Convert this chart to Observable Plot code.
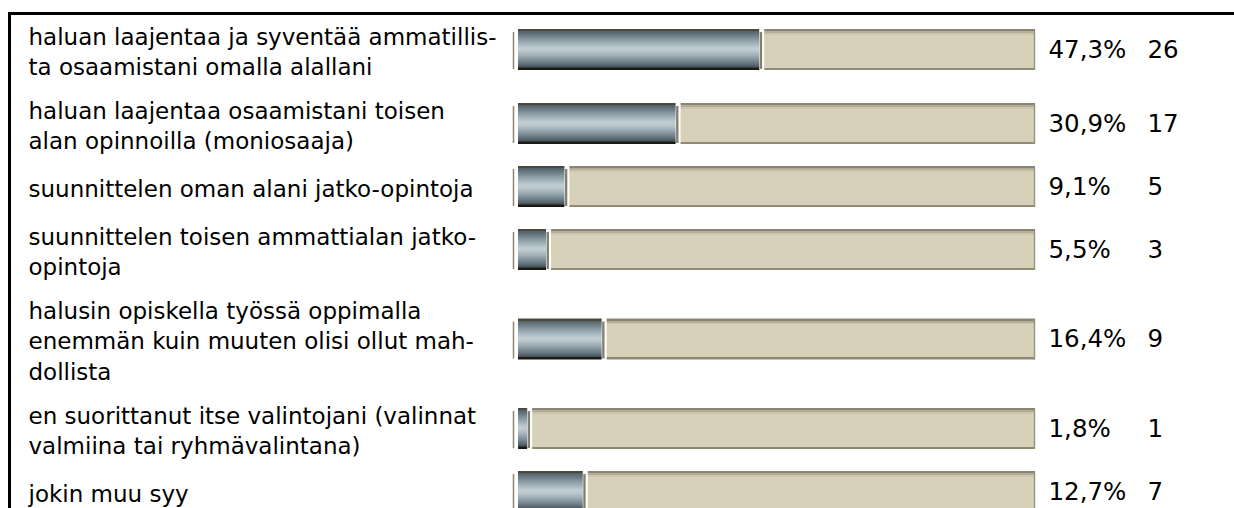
<!DOCTYPE html>
<html><head><meta charset="utf-8">
<script src="https://cdn.jsdelivr.net/npm/d3@7"></script>
<script src="https://cdn.jsdelivr.net/npm/@observablehq/plot@0.6"></script>
<style>
body{margin:0;background:#fff;}
#wrap{position:relative;width:1234px;height:508px;overflow:hidden;}
#frame{position:absolute;left:8px;top:12px;right:-20px;bottom:-20px;border-top:3px solid #000;border-left:3px solid #000;}
#chart{position:absolute;left:0;top:0;}
</style></head><body>
<div id="wrap"><div id="frame"></div><div id="chart"></div></div>
<script>
const labels = [
  "haluan laajentaa ja syventää ammatillis-\nta osaamistani omalla alallani",
  "haluan laajentaa osaamistani toisen\nalan opinnoilla (moniosaaja)",
  "suunnittelen oman alani jatko-opintoja",
  "suunnittelen toisen ammattialan jatko-\nopintoja",
  "halusin opiskella työssä oppimalla\nenemmän kuin muuten olisi ollut mah-\ndollista",
  "en suorittanut itse valintojani (valinnat\nvalmiina tai ryhmävalintana)",
  "jokin muu syy"
];
const percents = [47.3, 30.9, 9.1, 5.5, 16.4, 1.8, 12.7];
const counts = [26, 17, 5, 3, 9, 1, 7];

// layout derived from the number of label lines
const lineH = 31, pad = 12, minRow = 52, barH = 41, top0 = 12.5;
let acc = top0;
const rows = labels.map((label, i) => {
  const n = label.split("\n").length;
  const h = Math.max(minRow, n * lineH + pad);
  const cy = acc + h / 2;
  acc += h;
  return {label, pct: percents[i], count: counts[i], cy,
          pctText: percents[i].toFixed(1).replace(".", ",") + "%"};
});

const fontSize = 23;
const plot = Plot.plot({
  width: 1234, height: 508,
  marginTop: 0, marginRight: 0, marginBottom: 0, marginLeft: 0,
  x: {domain: [0, 100], range: [518, 1028], axis: null},
  y: {domain: [0, 508], range: [0, 508], axis: null},
  style: {fontFamily: "'DejaVu Sans', Verdana, sans-serif", fontSize: fontSize + "px", background: "transparent", color: "#000"},
  marks: [
    // track start tick
    Plot.ruleX(rows, {x: () => 0, y1: d => d.cy - barH / 2 + 3, y2: d => d.cy + barH / 2 - 1, dx: -5, stroke: "#8b8575", strokeWidth: 1.5}),
    // beige remainder
    Plot.rect(rows, {x1: "pct", x2: () => 100, y1: d => d.cy - barH / 2, y2: d => d.cy + barH / 2, insetLeft: 5, insetRight: -7, fill: "url(#beigeGrad)"}),
    Plot.ruleX(rows, {x: () => 100, y1: d => d.cy - barH / 2 + 2, y2: d => d.cy + barH / 2, dx: 6, stroke: "#9a9482", strokeWidth: 1.5}),
    // shadow strip
    Plot.ruleX(rows, {x: "pct", y1: d => d.cy - barH / 2 + 3, y2: d => d.cy + barH / 2 - 1, dx: 1.2, stroke: "#857f6f", strokeWidth: 2.4}),
    // value bar
    Plot.rect(rows, {x1: () => 0, x2: "pct", y1: d => d.cy - barH / 2, y2: d => d.cy + barH / 2, fill: "url(#darkGrad)"}),
    // labels
    Plot.text(rows, {frameAnchor: "left", dx: 28, y: "cy", text: "label", textAnchor: "start", lineAnchor: "middle", lineHeight: 30.5 / fontSize, fill: "#000"}),
    Plot.text(rows, {x: () => 100, dx: 20, y: "cy", text: "pctText", textAnchor: "start", lineAnchor: "middle", fontSize: 24.5, fill: "#000"}),
    Plot.text(rows, {x: () => 100, dx: 119, y: "cy", text: "count", textAnchor: "start", lineAnchor: "middle", fontSize: 24.5, fill: "#000"})
  ]
});

const svg = d3.select(plot);
const defs = svg.insert("defs", ":first-child");
const dg = defs.append("linearGradient").attr("id", "darkGrad").attr("x1", 0).attr("y1", 0).attr("x2", 0).attr("y2", 1);
[[0, "#4b493c"], [0.05, "#4b493c"], [0.06, "#55626a"], [0.15, "#6b7b83"], [0.27, "#8d9ea6"], [0.38, "#aab9c0"], [0.47, "#c0cdd3"], [0.54, "#bac7cd"], [0.65, "#9eadb4"], [0.76, "#7e8e96"], [0.86, "#5f6e76"], [0.93, "#455157"], [0.945, "#2a2d28"], [0.95, "#1a1912"], [1, "#1a1912"]]
  .forEach(([o, c]) => dg.append("stop").attr("offset", o).attr("stop-color", c));
const bg = defs.append("linearGradient").attr("id", "beigeGrad").attr("x1", 0).attr("y1", 0).attr("x2", 0).attr("y2", 1);
[[0, "#8a8473"], [0.05, "#8a8473"], [0.055, "#b3ad98"], [0.1, "#b3ad98"], [0.105, "#ccc6af"], [0.14, "#ccc6af"], [0.145, "#d6d1b8"], [0.945, "#d6d1b8"], [0.95, "#8f8976"], [1, "#8f8976"]]
  .forEach(([o, c]) => bg.append("stop").attr("offset", o).attr("stop-color", c));

document.getElementById("chart").appendChild(plot);
</script>
</body></html>
